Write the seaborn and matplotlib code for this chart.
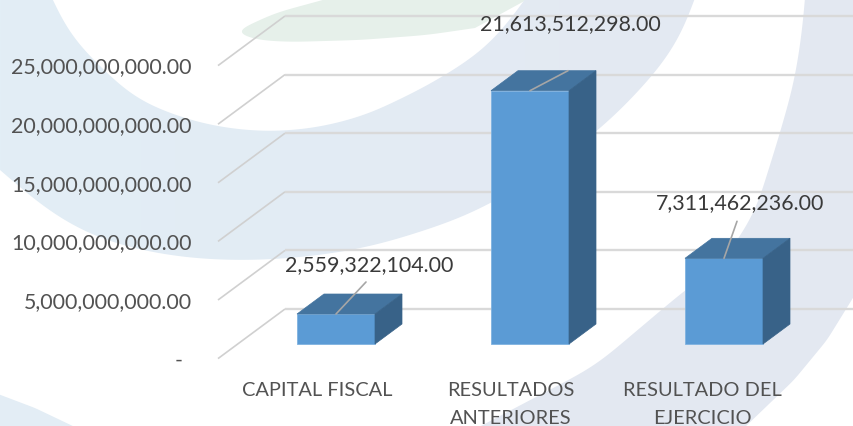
import numpy as np
import pandas as pd
import matplotlib
matplotlib.use("Agg")
import matplotlib.pyplot as plt
from matplotlib.patches import Polygon
import seaborn as sns

categories = ["CAPITAL FISCAL", "RESULTADOS\nANTERIORES", "RESULTADO DEL\nEJERCICIO"]
values = [2559322104.0, 21613512298.0, 7311462236.0]
tick_values = [0, 5e9, 10e9, 15e9, 20e9, 25e9]
tick_labels = ["-", "5,000,000,000.00", "10,000,000,000.00", "15,000,000,000.00",
               "20,000,000,000.00", "25,000,000,000.00"]

W, H = 854, 426
PX_PER_VAL = 58.6 / 5e9
Y0 = 344.0
X0, STEP = 336.0, 194.0
FONT = "Lato"
FS = 15.4

sns.set_theme(style="white")
plt.rcParams["font.family"] = [FONT, "DejaVu Sans"]
fig = plt.figure(figsize=(W / 100, H / 100), dpi=100, facecolor="white")

# ---- soft background artwork (pixel space) ----
bg = fig.add_axes([0, 0, 1, 1], zorder=0)
bg.set_xlim(0, W); bg.set_ylim(H, 0); bg.axis("off")

def smooth(pts, n=300):
    p = np.array(pts, float)
    s = np.r_[0, np.cumsum(np.hypot(*np.diff(p, axis=0).T))]
    u = np.linspace(0, s[-1], n)
    x, y = np.interp(u, s, p[:, 0]), np.interp(u, s, p[:, 1])
    k = 25
    w = np.hanning(2 * k + 1); w /= w.sum()
    def sm(a):
        pad = np.r_[2 * a[0] - a[k:0:-1], a, 2 * a[-1] - a[-2:-k - 2:-1]]
        return np.convolve(pad, w, mode="valid")
    return np.column_stack([sm(x), sm(y)])

def gradient_shape(poly, c1, c2):
    img = np.linspace(0, 1, 256).reshape(1, -1, 1)
    rgb = (1 - img) * np.array(matplotlib.colors.to_rgb(c1)) + img * np.array(matplotlib.colors.to_rgb(c2))
    im = bg.imshow(rgb, extent=[0, 700, H, 0], aspect="auto", zorder=1)
    patch = Polygon(poly, closed=True, transform=bg.transData, fc="none", ec="none")
    bg.add_patch(patch)
    im.set_clip_path(patch)
    bg.set_xlim(0, W); bg.set_ylim(H, 0)

# green ellipse
green = np.vstack([smooth([(330, -2), (275, 13), (234, 32), (256, 40), (290, 42), (360, 40), (427, 35), (475, 28)]),
                   [(530, -2)]])
bg.add_patch(Polygon(green, closed=True, fc="#e6f0ea", ec="none", zorder=1))

# large left crescent
inner = smooth([(52, -2), (67, 30), (90, 57), (133, 97), (173, 115), (217, 127), (267, 132), (317, 128),
                (367, 115), (427, 86), (474, 57), (500, 33), (526, -2)])
outer = smooth([(695, -2), (686, 25), (674, 50), (634, 97), (597, 132), (540, 175), (474, 213), (427, 230),
                (367, 248), (300, 258), (233, 261), (167, 256), (100, 240), (50, 213), (0, 170)])
gradient_shape(np.vstack([[(0, -2)], inner, outer]), "#e2eef6", "#e4e9f2")

# lower right band
upper = smooth([(805, -2), (802, 33), (794, 83), (780, 133), (755, 213), (722, 263), (685, 290), (595, 366), (477, 428)])
lower = smooth([(744, 428), (794, 380), (827, 340), (856, 293)])
bg.add_patch(Polygon(np.vstack([upper, lower, [(856, -2)]]), closed=True, fc="#e3e8f1", ec="none", zorder=1))
# corner bit
bg.add_patch(Polygon(np.vstack([smooth([(-2, 394), (35, 408), (77, 428)]), [(-2, 428)]]), closed=True, fc="#e3edf5", ec="none", zorder=1))

# ---- chart axes ----
ax = fig.add_axes([0, 0, 1, 1], zorder=1)
ax.patch.set_alpha(0)

def dx(px): return px / STEP
def dy(px): return px / PX_PER_VAL

data = pd.DataFrame({"categoria": categories, "valor": values})
xfront = (218 - X0) / STEP
xback = (285 - X0) / STEP
xend = (W - X0) / STEP
for v in tick_values:
    yf = v - dy(14.6)
    yb = v + dy(35.0)
    ax.plot([xfront, xback], [yf, yb], color="#d0d0d0", lw=1.2, zorder=1, solid_capstyle="butt")
    ax.plot([xback, xend], [yb, yb], color="#d9d9d9", lw=1.7, zorder=1, solid_capstyle="butt")

sns.barplot(data=data, x="categoria", y="valor", order=categories, color="#5b9bd5", saturation=1,
            width=78 / STEP, ax=ax, zorder=3, edgecolor="#7fb2e0", linewidth=0.6)
ax.set_xlim((0 - X0) / STEP, (W - X0) / STEP)
ax.set_ylim((Y0 - H) / PX_PER_VAL, Y0 / PX_PER_VAL)

DX, DY = dx(27), dy(20)
for bar in ax.patches[:3]:
    l, r = bar.get_x(), bar.get_x() + bar.get_width()
    t = bar.get_height()
    ax.add_patch(Polygon([(l, t), (l + DX, t + DY), (r + DX, t + DY), (r, t)], fc="#44749f", ec="#44749f", lw=0.5, zorder=3))
    ax.add_patch(Polygon([(r, 0), (r + DX, DY), (r + DX, t + DY), (r, t)], fc="#386288", ec="#386288", lw=0.5, zorder=3))

# data labels with leader lines
leader_offsets = [(30, 32), (38, 20), (13, 37)]
label_offsets = [(33, 49), (40, 67), (16, 55)]
for i, v in enumerate(values):
    ax.annotate("", xy=(i, v), xytext=leader_offsets[i], textcoords="offset pixels",
                arrowprops=dict(arrowstyle="-", color="#a6a6a6", lw=1.2, shrinkA=0, shrinkB=0), zorder=5)
    ax.annotate(f"{v:,.2f}", xy=(i, v), xytext=label_offsets[i], textcoords="offset pixels",
                ha="center", va="center", fontsize=FS, color="#3a3a3a", zorder=6)

# value-axis labels
for v, s in zip(tick_values, tick_labels):
    xt = (192 - X0) / STEP if s != "-" else (183 - X0) / STEP
    ax.text(xt, v - dy(16.5), s, ha="right", va="center", fontsize=FS, color="#525252")

# category labels
cat_x = [317, 511, 702]
for cx, s in zip(cat_x, categories):
    ax.text((cx - X0) / STEP, -dy(38.5), s, ha="center", va="top", fontsize=14.4, color="#525252", linespacing=1.72)

ax.set_xlabel(""); ax.set_ylabel("")
ax.set_xticks([]); ax.set_yticks([])
sns.despine(ax=ax, left=True, bottom=True)
fig.savefig("out.png", dpi=100)
